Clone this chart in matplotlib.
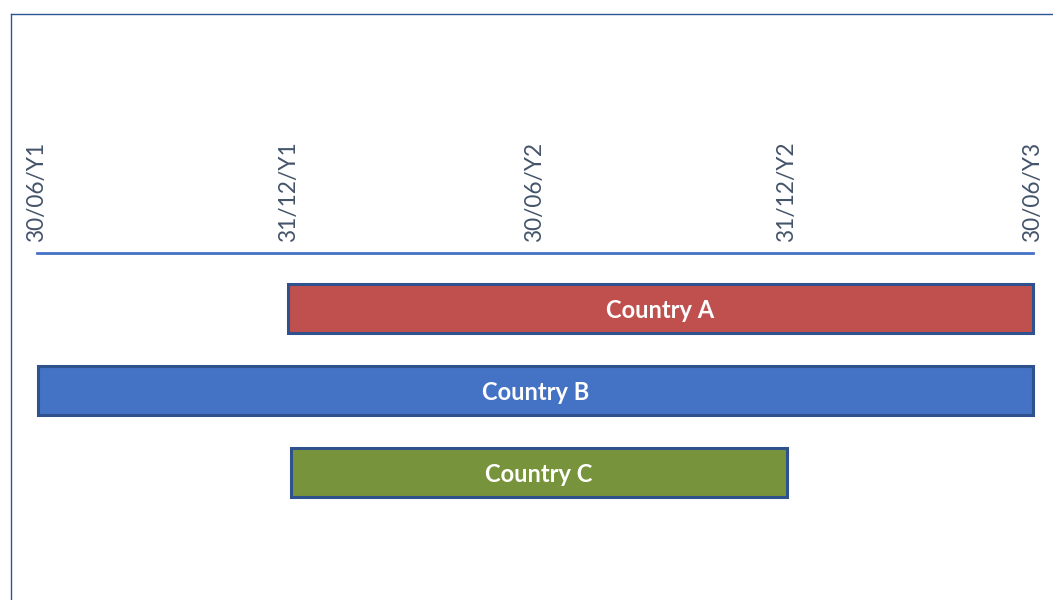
import matplotlib
matplotlib.use("Agg")
import matplotlib.pyplot as plt
from matplotlib.lines import Line2D

# Data (days since 30/06/Y1)
tick_labels = ["30/06/Y1", "31/12/Y1", "30/06/Y2", "31/12/Y2", "30/06/Y3"]
tick_days = [0, 184, 365, 549, 730]
countries = ["Country A", "Country B", "Country C"]
starts = [184, 1, 186]
ends = [730, 730, 550]
colors = ["#C0504D", "#4472C4", "#77933C"]

W, H = 1053, 600
fig = plt.figure(figsize=(W / 100, H / 100), dpi=100)
fig.patch.set_facecolor("white")

# outer frame lines (top and left)
fig.add_artist(Line2D([11 / W, 11 / W], [0, 1 - 14 / H], color="#2F5597", lw=1.0))
fig.add_artist(Line2D([11 / W, 1], [1 - 14 / H, 1 - 14 / H], color="#2F5597", lw=1.0))

left, right = 37 / W, 1033 / W
top, bottom = 1 - 253 / H, 0
ax = fig.add_axes([left, bottom, right - left, top - bottom])
ax.set_facecolor("none")

for i, (c, s, e, col) in enumerate(zip(countries, starts, ends, colors)):
    ax.barh(i, e - s, left=s, height=0.6, color=col, edgecolor="#2F528F",
            linewidth=2.2, clip_on=False, zorder=3)
    ax.text((s + e) / 2, i + 0.02, c, ha="center", va="center", color="white",
            fontsize=17, fontweight="bold", family=["Lato", "DejaVu Sans"], zorder=4)

ax.set_xlim(0, 730)
ax.set_ylim(3.555, -0.677)
ax.set_yticks([])
ax.xaxis.tick_top()
ax.set_xticks(tick_days)
ax.set_xticklabels(tick_labels, rotation=90, color="#44546A", fontsize=16.3,
                   family=["Lato", "DejaVu Sans"])
ax.tick_params(axis="x", length=0, pad=8)
for sp in ["left", "right", "bottom"]:
    ax.spines[sp].set_visible(False)
ax.spines["top"].set_color("#4472C4")
ax.spines["top"].set_linewidth(2)

fig.savefig("out.png", dpi=100, facecolor="white")
